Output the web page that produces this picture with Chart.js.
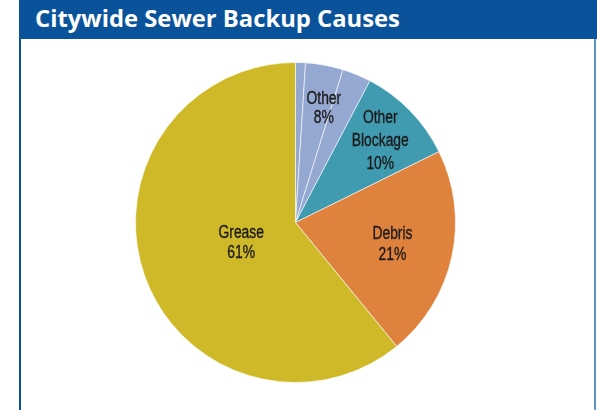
<!DOCTYPE html>
<html>
<head>
<meta charset="utf-8">
<script src="https://cdn.jsdelivr.net/npm/chart.js@4"></script>
<style>
  html, body { margin: 0; padding: 0; background: #fff; }
  body { width: 597px; height: 410px; position: relative; overflow: hidden; }
  #header {
    position: absolute; left: 19px; top: 0; width: 578px; height: 39px;
    background: #0a539b; color: #fff;
    font: 700 23.8px 'Open Sans', Lato, sans-serif;
    line-height: 37px; padding-left: 16px; box-sizing: border-box;
    white-space: nowrap;
  }
  #panel {
    position: absolute; left: 19px; top: 39px; width: 577px; height: 380px;
    border-left: 2px solid #0a539b; border-right: 2px solid #5e93c6;
    box-sizing: border-box;
  }
  #wrap { position: absolute; left: 0; top: 0; width: 597px; height: 410px; }
</style>
</head>
<body>
<div id="panel"></div>
<div id="wrap"><canvas id="pie"></canvas></div>
<div id="header">Citywide Sewer Backup Causes</div>
<script>
// slices clockwise from 12 o'clock; the three "Other" slivers share one label
const categories = ['Other', 'Other', 'Other', 'Other Blockage', 'Debris', 'Grease'];
const shares = [1.0, 3.8, 2.9, 10.0, 21.4, 60.9];
const colors = ['#94a8d2', '#94a8d2', '#94a8d2', '#409bb0', '#de823e', '#cfb928'];

// where each label sits, as a fraction of the radius
const labelStyle = {
  'Other': { r: 0.74, lh: 19 },
  'Other Blockage': { r: 0.74, lh: 23 },
  'Debris': { r: 0.62, lh: 21 },
  'Grease': { r: 0.36, lh: 20 }
};

const sliceLabels = {
  id: 'sliceLabels',
  afterDatasetsDraw(chart) {
    const arcs = chart.getDatasetMeta(0).data;
    const ctx = chart.ctx;
    const groups = [...new Set(categories)];
    const squeeze = 0.77; // narrow face, like the print original
    ctx.save();
    ctx.fillStyle = '#1c1a1b';
    ctx.strokeStyle = '#1c1a1b';
    ctx.lineWidth = 0.35;
    ctx.font = '18px "Liberation Sans", Arial, sans-serif';
    ctx.textAlign = 'center';
    ctx.textBaseline = 'alphabetic';
    groups.forEach(g => {
      const idx = categories.map((c, i) => c === g ? i : -1).filter(i => i >= 0);
      const first = arcs[idx[0]], last = arcs[idx[idx.length - 1]];
      const mid = (first.startAngle + last.endAngle) / 2;
      const st = labelStyle[g];
      const rr = first.outerRadius * st.r;
      const cx = first.x + Math.cos(mid) * rr;
      const cy = first.y + Math.sin(mid) * rr;
      const total = idx.reduce((s, i) => s + shares[i], 0);
      const lines = g.split(' ').concat([Math.round(total) + '%']);
      const capH = 12.8;
      const y0 = cy + capH / 2 - (lines.length - 1) * st.lh / 2;
      lines.forEach((t, k) => {
        ctx.save();
        ctx.translate(cx, y0 + k * st.lh);
        ctx.scale(squeeze, 1);
        ctx.fillText(t, 0, 0);
        ctx.strokeText(t, 0, 0);
        ctx.restore();
      });
    });
    ctx.restore();
  }
};

new Chart(document.getElementById('pie'), {
  type: 'pie',
  data: {
    labels: categories,
    datasets: [{
      data: shares,
      backgroundColor: colors,
      borderColor: '#ffffff',
      borderWidth: 0.6,
      radius: 160
    }]
  },
  options: {
    responsive: true,
    maintainAspectRatio: false,
    animation: false,
    layout: { padding: { left: 0, right: 6, top: 35, bottom: 0 } },
    plugins: {
      legend: { display: false },
      tooltip: { enabled: false }
    }
  },
  plugins: [sliceLabels]
});
</script>
</body>
</html>
